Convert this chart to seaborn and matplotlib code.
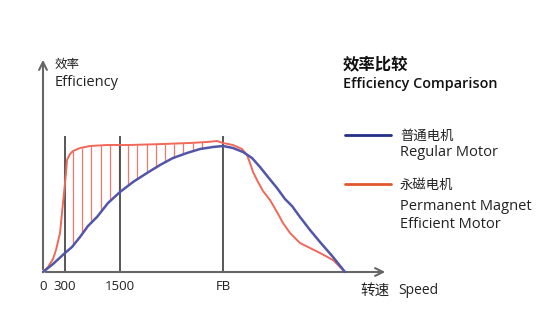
import numpy as np
import pandas as pd
import matplotlib
matplotlib.use("Agg")
import matplotlib.pyplot as plt
import seaborn as sns

# ---- data (speed axis in arbitrary units, efficiency in arbitrary units) ----
regular_x = [0, 10, 22, 29, 37, 45, 54, 65, 77, 90, 104, 117, 130, 144, 157, 170, 180, 190,
             200, 209, 217, 225, 234, 242, 249, 257, 267, 277, 290, 302]
regular_y = [0, 8, 19, 25, 35, 46, 55, 69, 80, 90, 99, 107, 114, 119, 123, 125, 126, 124,
             120, 114, 105, 95, 84, 73, 66, 55, 42, 30, 15, 0]

pm_x = [0, 5, 10, 13, 17, 19, 21, 23, 24, 27, 30, 37, 47, 64, 87, 120, 147, 164, 174, 180,
        190, 199, 204, 207, 210, 215, 220, 227, 234, 240, 247, 257, 267, 277, 290, 302]
pm_y = [0, 5, 13, 22, 39, 59, 79, 99, 112, 118, 121, 124, 126, 127, 127, 128, 129, 130, 131, 129,
        127, 123, 117, 109, 100, 90, 81, 72, 60, 49, 39, 29, 24, 19, 12, 0]

tick_pos = [0, 22, 77, 180]
tick_labels = ["0", "300", "1500", "FB"]
ref_lines = [22, 77, 180]
hatch_start, hatch_stop, hatch_step = 30, 160, 9.2

sns.set_theme(style="white")
plt.rcParams["font.family"] = ["Open Sans", "Noto Sans CJK SC", "DejaVu Sans"]

fig = plt.figure(figsize=(5.5, 3.23), dpi=100)
ax = fig.add_axes([0, 0, 1, 1])

blue = "#5256a8"
red = "#f0685a"

# hatching between curves
hx = np.arange(hatch_start, hatch_stop, hatch_step)
ax.vlines(hx, np.interp(hx, regular_x, regular_y), np.interp(hx, pm_x, pm_y),
          color=red, lw=0.9, alpha=0.9, zorder=2)

# reference vertical lines
ax.vlines(ref_lines, 0, 136, color="#4a4a4a", lw=1.3, zorder=3)

df_r = pd.DataFrame({"x": regular_x, "y": regular_y})
df_p = pd.DataFrame({"x": pm_x, "y": pm_y})
sns.lineplot(data=df_p, x="x", y="y", ax=ax, color=red, lw=1.4, sort=False, zorder=4)
sns.lineplot(data=df_r, x="x", y="y", ax=ax, color=blue, lw=1.8, sort=False, zorder=5)
ax.set_xlim(-43, 507)
ax.set_ylim(-51, 272)
ax.axis("off")

# axes with arrows
axc = "#666666"
ax.annotate("", xy=(0, 215), xytext=(0, 0),
            arrowprops=dict(arrowstyle="->", color=axc, lw=1.5, mutation_scale=14))
ax.annotate("", xy=(345, 0), xytext=(0, 0),
            arrowprops=dict(arrowstyle="->", color=axc, lw=1.5, mutation_scale=14))

# tick labels
for p, t in zip(tick_pos, tick_labels):
    ax.text(p, -15, t, ha="center", va="center", fontsize=9.5, color="#222222")
ax.text(332, -19, "转速", ha="center", va="center", fontsize=10.5, color="#222222")
ax.text(355, -18, "Speed", ha="left", va="center", fontsize=10, color="#222222")

# y label
ax.text(12, 208, "效率", ha="left", va="center", fontsize=9, color="#222222")
ax.text(12, 190, "Efficiency", ha="left", va="center", fontsize=10.5, color="#222222")

# title
ax.text(300, 207, "效率比较", ha="left", va="center", fontsize=11.8, fontweight="bold", color="#111111")
ax.text(300, 188, "Efficiency Comparison", ha="left", va="center", fontsize=10.4,
        fontweight="semibold", color="#111111")

# legend
ax.plot([302, 348], [137.5, 137.5], color="#222f86", lw=2)
ax.text(357, 136, "普通电机", ha="left", va="center", fontsize=9.6, color="#222222")
ax.text(357, 119, "Regular Motor", ha="left", va="center", fontsize=10.5, color="#222222")
ax.plot([302, 348], [88, 88], color="#e0582e", lw=2)
ax.text(357, 87, "永磁电机", ha="left", va="center", fontsize=9.6, color="#222222")
ax.text(357, 66, "Permanent Magnet", ha="left", va="center", fontsize=10.5, color="#222222")
ax.text(357, 47, "Efficient Motor", ha="left", va="center", fontsize=10.5, color="#222222")

fig.savefig("out.png", dpi=100, facecolor="white")
